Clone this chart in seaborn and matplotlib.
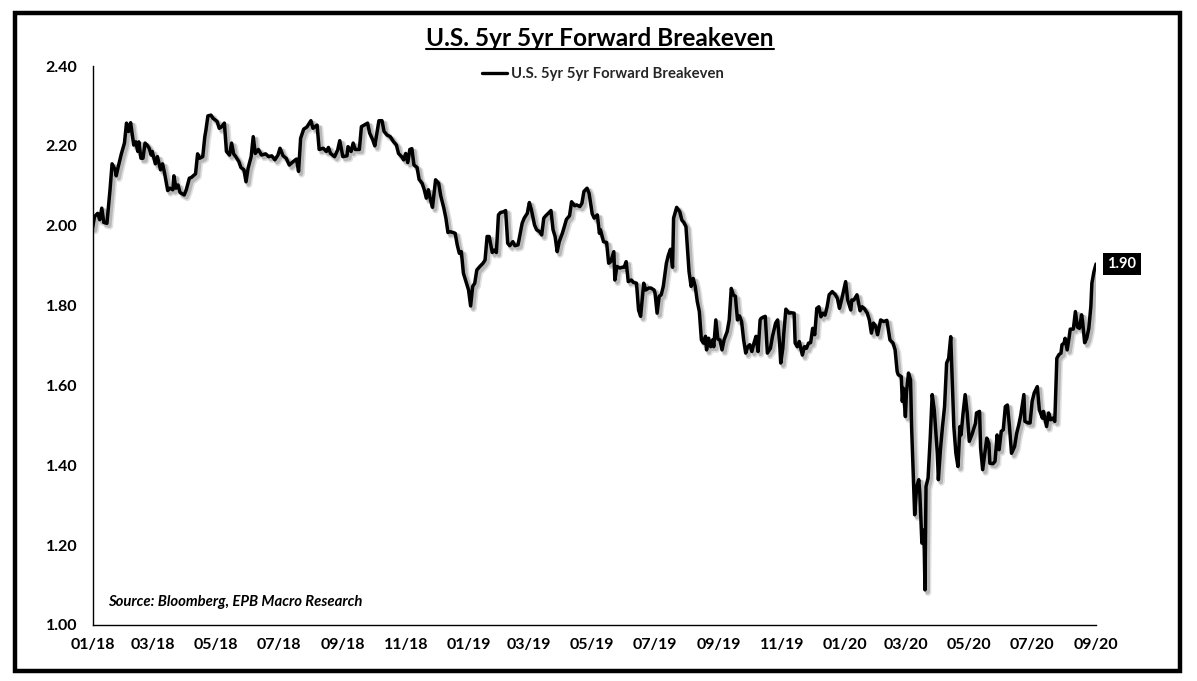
import matplotlib
matplotlib.use('Agg')
import matplotlib.pyplot as plt
import matplotlib.dates as mdates
import matplotlib.patheffects as pe
from matplotlib.patches import Rectangle
from matplotlib.lines import Line2D
from matplotlib.ticker import FormatStrFormatter
import seaborn as sns
import pandas as pd
import numpy as np

title = "U.S. 5yr 5yr Forward Breakeven"
series_name = "U.S. 5yr 5yr Forward Breakeven"
source = "Source: Bloomberg, EPB Macro Research"
start_date = "2018-01-01"
end_date = "2020-09-01"

# days since 2018-01-01
day_offsets = [
    0, 2, 5, 7, 9, 11, 14, 17, 19, 22, 23, 25, 28, 31, 33, 35, 37, 40, 42, 44, 45, 47, 49, 51, 53, 55, 57, 58,
    61, 63, 66, 68, 70, 73, 75, 78, 79, 81, 83, 85, 89, 91, 94, 96, 100, 102, 104, 107, 109, 110, 112, 115,
    117, 121, 123, 125, 128, 130, 133, 135, 137, 139, 142, 144, 147, 149, 151, 154, 156, 158, 161, 164, 168,
    171, 174, 177, 180, 182, 185, 188, 191, 195, 198, 200, 202, 205, 208, 212, 214, 218, 220, 224, 227, 229,
    231, 235, 238, 240, 243, 247, 248, 251, 253, 255, 259,
    261, 267, 269, 272, 274, 278, 281, 283, 286, 289, 292, 295, 297, 300, 302, 304, 306, 308, 310, 312, 315,
    317, 320, 322, 324, 326, 328, 330, 333, 336, 338, 341, 343, 345, 347, 350, 352, 354, 356, 358, 360, 363,
    365, 367, 369, 371, 373, 376, 379, 381, 383, 385, 388, 390, 392, 394, 396, 399, 401, 403, 405, 408, 410,
    413, 417, 419, 422, 424, 426, 429, 431, 434, 436, 438, 440, 443, 445, 447, 449, 451, 453, 456, 458, 460,
    463, 465, 468, 470, 473, 475, 477, 480, 482, 485, 487, 490, 492, 493, 496, 499, 501, 503, 506, 507, 509,
    512, 514, 516, 518, 520, 523, 525, 528, 530, 532, 535, 537, 540, 542, 545, 546, 548, 550,
    552, 554, 557, 559, 561, 563, 564, 567, 570, 572, 574, 576, 579, 581, 583, 585, 587, 589, 591, 593, 595,
    596, 598, 600, 602, 603, 605, 607, 609, 611, 613, 616, 618, 620, 622, 624, 626, 628, 630, 632, 634, 636,
    638, 640, 642, 644, 646, 648, 649, 651, 653, 655, 658, 660, 663, 665, 667, 668, 670, 671, 673, 676, 678,
    681, 682, 684, 686, 689, 691, 693, 695, 697, 699, 701, 703, 705, 707, 709, 711, 713, 715, 718, 721, 723,
    725, 727, 730, 731, 733, 736, 737, 739, 742, 745, 747, 749, 752, 754, 756, 758, 760, 762,
    765, 768, 771, 774, 777, 779, 781, 782, 785, 786, 787, 789, 790, 792, 794, 795, 798, 800, 802, 803, 805,
    807, 808, 809, 811, 813, 815, 817, 820, 821, 823, 825, 827, 829, 831, 833, 834, 836, 838, 840, 842, 843,
    845, 847, 849, 851, 854, 855, 857, 858, 861, 862, 864, 867, 868, 870, 871, 874, 876, 878, 880, 882, 884,
    886, 888, 890, 892, 895, 897, 899, 901, 904, 905, 908, 910, 912, 914, 917, 919, 922, 923, 926, 928, 930,
    932, 934, 936, 938, 940, 941, 943, 944, 946, 948, 949, 952, 954, 956, 958, 960, 961, 963, 965, 967, 969,
    970, 972, 974,
]

values = [
    1.994, 2.023, 2.031, 2.015, 2.044, 2.008, 2.006, 2.090, 2.155, 2.140, 2.125, 2.148, 2.180, 2.207, 2.257,
    2.236, 2.258, 2.202, 2.210, 2.186, 2.210, 2.169, 2.169, 2.207, 2.202, 2.194, 2.177, 2.186, 2.155, 2.173,
    2.140, 2.155, 2.131, 2.088, 2.094, 2.090, 2.125, 2.094, 2.102, 2.083, 2.077, 2.090, 2.119, 2.121, 2.130,
    2.180, 2.169, 2.173, 2.223, 2.238, 2.275, 2.277, 2.269, 2.261, 2.244, 2.247, 2.257, 2.186, 2.177, 2.207,
    2.180, 2.173, 2.161, 2.146, 2.140, 2.110, 2.144, 2.173, 2.223, 2.181, 2.191, 2.177, 2.180, 2.173, 2.175,
    2.165, 2.177, 2.194, 2.175, 2.169, 2.152, 2.161, 2.167, 2.136, 2.219, 2.242, 2.247, 2.263, 2.244, 2.252,
    2.191, 2.194, 2.186, 2.196, 2.181, 2.173, 2.190, 2.213, 2.173, 2.175, 2.198, 2.186, 2.207, 2.191, 2.191,
    2.248, 2.257, 2.232, 2.215, 2.200, 2.263, 2.263, 2.236, 2.227, 2.223, 2.211, 2.202, 2.181, 2.173, 2.165,
    2.181, 2.158, 2.191, 2.193, 2.152, 2.146, 2.116, 2.106, 2.090, 2.069, 2.090, 2.065, 2.046, 2.115, 2.106,
    2.075, 2.044, 2.019, 1.983, 1.985, 1.983, 1.981, 1.952, 1.931, 1.935, 1.881, 1.856, 1.839, 1.799, 1.848,
    1.856, 1.889, 1.898, 1.906, 1.914, 1.973, 1.973, 1.933, 1.939, 1.933, 2.027, 2.033, 2.035, 2.038, 1.956,
    1.950, 1.960, 1.950, 1.952, 2.006, 2.019, 2.031, 2.058, 2.040, 2.002, 1.990, 1.985, 1.977, 2.019, 2.025,
    2.033, 2.038, 1.990, 1.973, 1.935, 1.960, 1.981, 1.998, 2.016, 2.025, 2.060, 2.050, 2.052, 2.048, 2.056,
    2.086, 2.094, 2.081, 2.030, 2.019, 2.027, 1.981, 1.990, 1.960, 1.958, 1.906, 1.910, 1.935, 1.864, 1.898,
    1.894, 1.896, 1.896, 1.910, 1.860, 1.864, 1.858, 1.856, 1.789, 1.773, 1.856, 1.839, 1.844, 1.844, 1.839,
    1.831, 1.781, 1.823,
    1.827, 1.848, 1.906, 1.927, 1.941, 1.896, 2.019, 2.046, 2.035, 2.014, 2.008, 1.998, 1.885, 1.848, 1.868,
    1.848, 1.810, 1.785, 1.714, 1.706, 1.723, 1.689, 1.718, 1.697, 1.714, 1.697, 1.764, 1.716, 1.714, 1.689,
    1.714, 1.735, 1.764, 1.843, 1.827, 1.823, 1.764, 1.774, 1.760, 1.714, 1.681, 1.697, 1.702, 1.685, 1.706,
    1.723, 1.685, 1.764, 1.768, 1.771, 1.773, 1.681, 1.693, 1.723, 1.756, 1.764, 1.702, 1.656, 1.693, 1.731,
    1.791, 1.781, 1.782, 1.781, 1.706, 1.697, 1.710, 1.676, 1.697, 1.693, 1.706, 1.707, 1.743, 1.727, 1.793,
    1.797, 1.772, 1.781, 1.776, 1.797, 1.827, 1.835, 1.827, 1.818, 1.793, 1.814, 1.848, 1.860, 1.814, 1.789,
    1.814, 1.814, 1.827, 1.787, 1.797, 1.793, 1.781, 1.764, 1.731, 1.756, 1.749, 1.727,
    1.764, 1.760, 1.763, 1.714, 1.706, 1.689, 1.635, 1.627, 1.622, 1.560, 1.593, 1.522, 1.581, 1.631, 1.614,
    1.497, 1.276, 1.347, 1.364, 1.330, 1.205, 1.238, 1.088, 1.347, 1.368, 1.464, 1.577, 1.539, 1.430, 1.364,
    1.439, 1.497, 1.547, 1.656, 1.668, 1.722, 1.647, 1.497, 1.430, 1.397, 1.497, 1.476, 1.531, 1.577, 1.531,
    1.460, 1.480, 1.489, 1.505, 1.531, 1.535, 1.443, 1.389, 1.447, 1.468, 1.455, 1.405, 1.404, 1.410, 1.476,
    1.439, 1.485, 1.489, 1.547, 1.551, 1.497, 1.430, 1.447, 1.480, 1.501, 1.526, 1.577, 1.510, 1.506, 1.506,
    1.560, 1.581, 1.597, 1.539, 1.518, 1.535, 1.497, 1.531, 1.514, 1.518, 1.510, 1.668, 1.677, 1.681, 1.702,
    1.706, 1.718, 1.689, 1.722, 1.741, 1.741, 1.785, 1.746, 1.743, 1.777, 1.760, 1.707, 1.718, 1.743, 1.798,
    1.856, 1.885, 1.904,
]

y_ticks = [1.00, 1.20, 1.40, 1.60, 1.80, 2.00, 2.20, 2.40]
tick_months = [1, 3, 5, 7, 9, 11]

W, H = 1197, 681
sns.set_style("white")
plt.rcParams['font.family'] = ['Lato', 'DejaVu Sans']
plt.rcParams['font.weight'] = 'bold'

fig = plt.figure(figsize=(W / 100, H / 100), dpi=100)
ax = fig.add_axes([92.5 / W, 1 - 625 / H, (1096 - 92.5) / W, (625 - 66) / H])
ax.set_facecolor('white')

dates = pd.Timestamp(start_date) + pd.to_timedelta(day_offsets, unit='D')
df = pd.DataFrame({'date': dates, 'value': values})
sns.lineplot(data=df, x='date', y='value', ax=ax, color='black', linewidth=2.5,
             estimator=None, label=series_name, legend=False)

line = ax.lines[0]
line.set_path_effects([
    pe.SimpleLineShadow(offset=(2.2, -2.2), shadow_color='black', alpha=0.12, linewidth=4.5),
    pe.SimpleLineShadow(offset=(1.8, -1.8), shadow_color='black', alpha=0.18, linewidth=3.0),
    pe.Normal(),
])
line.set_solid_joinstyle('round')

ax.set_xlim(pd.Timestamp(start_date), pd.Timestamp(end_date))
ax.set_ylim(y_ticks[0], y_ticks[-1])
ax.set_yticks(y_ticks)
ax.yaxis.set_major_formatter(FormatStrFormatter('%.2f'))
ax.xaxis.set_major_locator(mdates.MonthLocator(bymonth=tick_months))
ax.xaxis.set_major_formatter(mdates.DateFormatter('%m/%y'))
ax.set_xlabel('')
ax.set_ylabel('')

for s in ['top', 'right']:
    ax.spines[s].set_visible(False)
for s in ['left', 'bottom']:
    ax.spines[s].set_color('black')
    ax.spines[s].set_linewidth(1.0)

ax.tick_params(axis='both', which='major', direction='out', length=5, width=1,
               color='black', labelsize=11.5, labelcolor='black')
ax.tick_params(axis='x', pad=4)
ax.tick_params(axis='y', pad=6)
for lbl in ax.get_xticklabels() + ax.get_yticklabels():
    lbl.set_fontweight('bold')

# legend
handle = Line2D([], [], color='black', linewidth=2.4)
ax.legend([handle], [series_name], loc='center', bbox_to_anchor=(603 / W, 1 - 74 / H),
          bbox_transform=fig.transFigure, frameon=False, handlelength=1.7,
          handletextpad=0.25, prop={'size': 10.7, 'weight': 'bold'})

# last value tag
ax.annotate(f"{values[-1]:.2f}", xy=(dates[-1], values[-1]), xytext=(18.5, 0),
            textcoords='offset points', ha='center', va='center', color='white',
            fontsize=10.5, fontweight='bold', annotation_clip=False,
            bbox=dict(boxstyle='square,pad=0.3', fc='black', ec='none'))

# source
fig.text(108 / W, 1 - 602 / H, source, ha='left', va='center', fontsize=10.7,
         fontweight='bold', style='italic', color='black')

# title with underline
t = fig.text(600 / W, 1 - 38 / H, title, ha='center', va='center', fontsize=17.6,
             fontweight='bold', color='black')
fig.canvas.draw()
bb = t.get_window_extent(renderer=fig.canvas.get_renderer())
uy = (H - 48.5) / H
fig.add_artist(Line2D([bb.x0 / W, bb.x1 / W], [uy, uy], color='black', linewidth=1.5,
                      transform=fig.transFigure))

# frame border
fig.add_artist(Rectangle((15 / W, 1 - 671 / H), (1180 - 15) / W, (671 - 13) / H,
                         transform=fig.transFigure, fill=False, ec='black', lw=3.2))

fig.savefig('out.png', dpi=100, facecolor='white')
